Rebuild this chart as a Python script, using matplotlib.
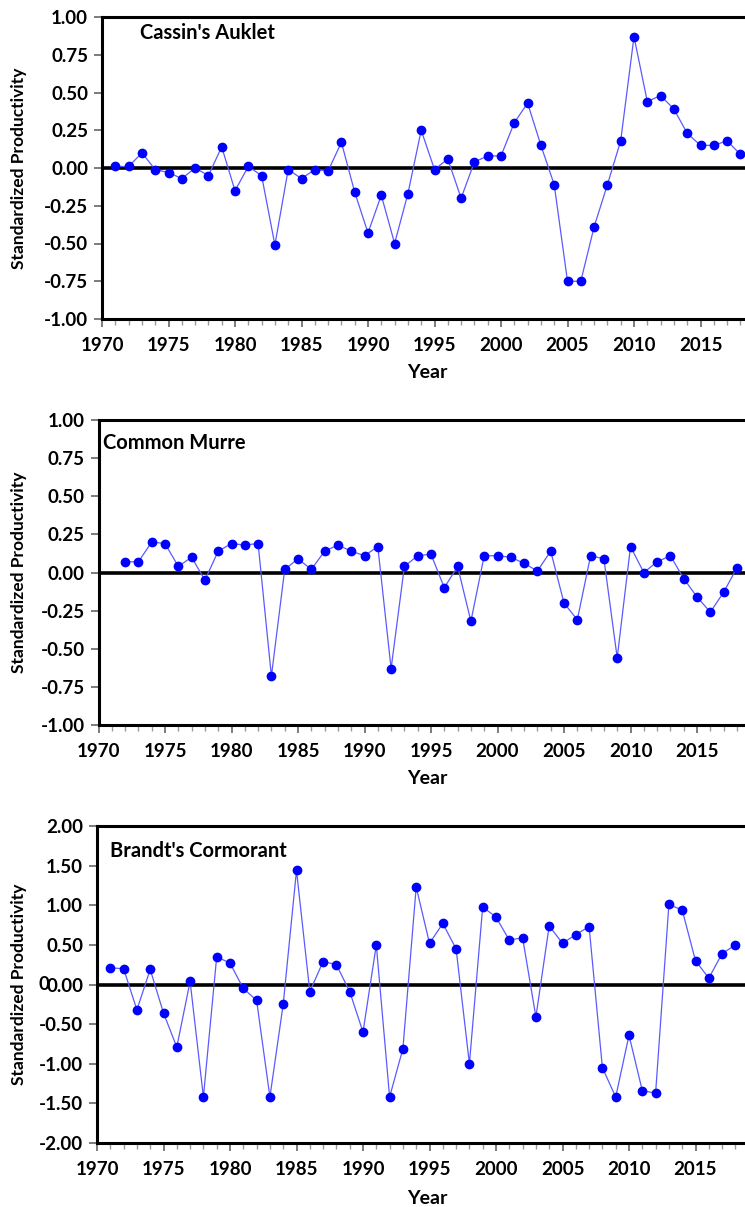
import matplotlib
matplotlib.use("Agg")
import matplotlib.pyplot as plt
from matplotlib.ticker import MultipleLocator, FixedLocator, FormatStrFormatter

plt.rcParams['font.family'] = ['Lato', 'DejaVu Sans']

years_auklet = list(range(1971, 2019))
auklet = [0.01, 0.01, 0.10, -0.01, -0.03, -0.07, 0.00, -0.05, 0.14, -0.15,
          0.01, -0.05, -0.51, -0.01, -0.07, -0.01, -0.02, 0.17, -0.16, -0.43,
          -0.18, -0.50, -0.17, 0.25, -0.01, 0.06, -0.20, 0.04, 0.08, 0.08,
          0.30, 0.43, 0.15, -0.11, -0.75, -0.75, -0.39, -0.11, 0.18, 0.87,
          0.44, 0.48, 0.39, 0.23, 0.15, 0.15, 0.18, 0.09]

years_murre = list(range(1972, 2019))
murre = [0.07, 0.07, 0.20, 0.19, 0.04, 0.10, -0.05, 0.14, 0.19, 0.18,
         0.19, -0.68, 0.02, 0.09, 0.02, 0.14, 0.18, 0.14, 0.11, 0.17,
         -0.63, 0.04, 0.11, 0.12, -0.10, 0.04, -0.32, 0.11, 0.11, 0.10,
         0.06, 0.01, 0.14, -0.20, -0.31, 0.11, 0.09, -0.56, 0.17, 0.00,
         0.07, 0.11, -0.04, -0.16, -0.26, -0.13, 0.03]

years_cormorant = list(range(1971, 2019))
cormorant = [0.21, 0.20, -0.32, 0.19, -0.36, -0.79, 0.04, -1.42, 0.35, 0.27,
             -0.05, -0.20, -1.42, -0.25, 1.44, -0.09, 0.29, 0.25, -0.09, -0.60,
             0.50, -1.42, -0.81, 1.23, 0.52, 0.77, 0.45, -1.00, 0.98, 0.85,
             0.56, 0.59, -0.41, 0.74, 0.52, 0.63, 0.73, -1.05, -1.42, -0.64,
             -1.34, -1.37, 1.01, 0.94, 0.30, 0.08, 0.39, 0.50]

year_ticks = [1970, 1975, 1980, 1985, 1990, 1995, 2000, 2005, 2010, 2015]

panels = [
    ("Cassin's Auklet", years_auklet, auklet, (-1.0, 1.0), 0.25),
    ("Common Murre", years_murre, murre, (-1.0, 1.0), 0.25),
    ("Brandt's Cormorant", years_cormorant, cormorant, (-2.0, 2.0), 0.50),
]

W, H = 745, 1207
fig = plt.figure(figsize=(W / 100, H / 100), dpi=100)

# pixel layout per panel: axes left/top/bottom, title anchor, "Year" baseline
boxes = [
    dict(left=102, top=17, bottom=319, title=(140, 33), year_y=373),
    dict(left=98.5, top=420, bottom=725, title=(103, 443), year_y=778),
    dict(left=97, top=826, bottom=1143, title=(110, 851), year_y=1198),
]
px_per_year = 13.3

for (title, yrs, vals, ylim, step), b in zip(panels, boxes):
    left, top, bottom = b['left'], b['top'], b['bottom']
    width = 50 * px_per_year
    ax = fig.add_axes([left / W, 1 - bottom / H, width / W, (bottom - top) / H])
    ax.plot(yrs, vals, color='#5a5aff', lw=0.9, marker='o', ms=6.0,
            mfc='#0000ff', mec='#0000ff', zorder=3)
    ax.axhline(0, color='black', lw=2.6, zorder=2)
    ax.set_xlim(1970, 2020)
    ax.set_ylim(*ylim)
    ax.xaxis.set_major_locator(FixedLocator(year_ticks))
    ax.xaxis.set_minor_locator(FixedLocator(list(range(1970, 2020))))
    ax.yaxis.set_major_locator(MultipleLocator(step))
    ax.yaxis.set_major_formatter(FormatStrFormatter('%.2f'))
    for s in ['left', 'bottom', 'top']:
        ax.spines[s].set_linewidth(2.2)
    ax.spines['right'].set_visible(False)
    ax.tick_params(axis='x', which='major', direction='out', length=6, width=1.2,
                   color='#666666', pad=7)
    ax.tick_params(axis='x', which='minor', direction='out', length=4, width=1.0,
                   color='#999999')
    ax.tick_params(axis='y', which='major', direction='out', length=6, width=1.2,
                   color='#666666', pad=4)
    for lab in ax.get_xticklabels() + ax.get_yticklabels():
        lab.set_fontsize(13.5)
        lab.set_fontweight('bold')
    ax.set_ylabel('Standardized Productivity', fontsize=12.5, fontweight='bold')
    ax.yaxis.set_label_coords(-(left - 27) / width, 0.5)
    fig.text(b['title'][0] / W, 1 - b['title'][1] / H, title,
             fontsize=14.5, fontweight='bold', va='center', ha='left')
    fig.text(427 / W, 1 - b['year_y'] / H, 'Year',
             fontsize=14, fontweight='bold', va='center', ha='center')

# stray zero printed just left of the cormorant panel's 0.00 label
fig.text(49 / W, 1 - 985 / H, '0', fontsize=13.5, fontweight='bold',
         va='center', ha='right')

fig.savefig('out.png', dpi=100)
